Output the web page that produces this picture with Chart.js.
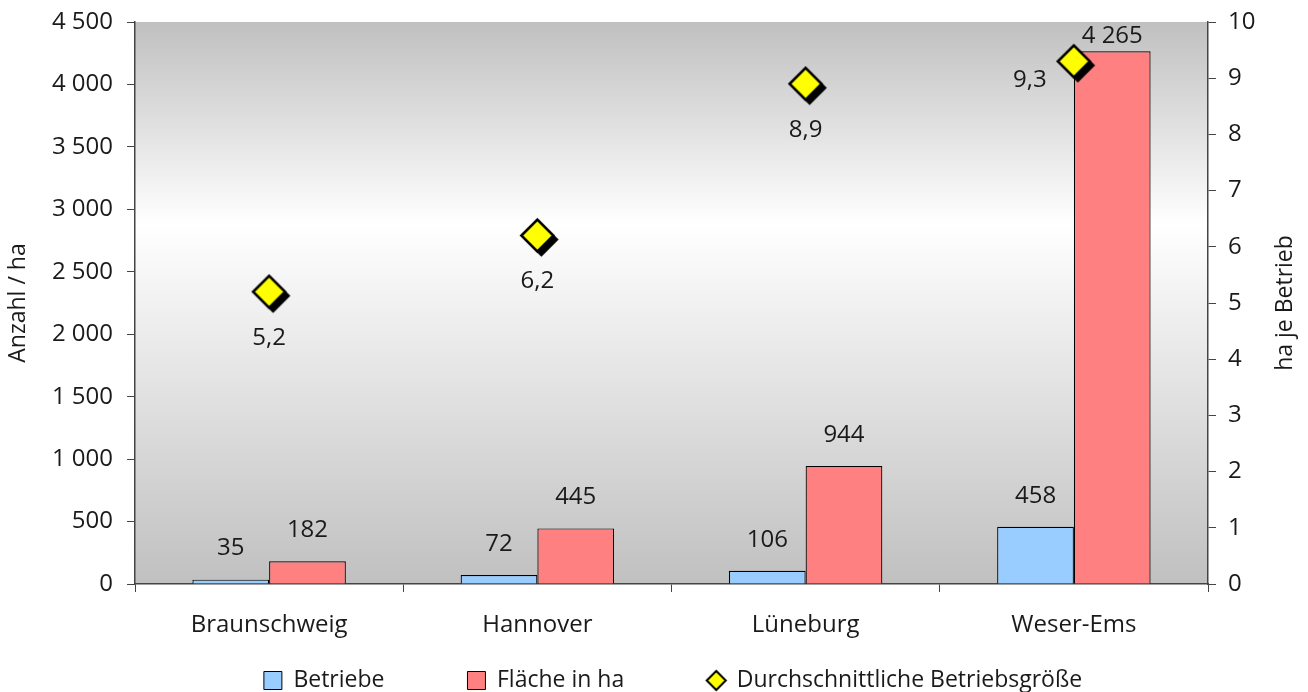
<!DOCTYPE html>
<html>
<head>
<meta charset="utf-8">
<script src="https://cdn.jsdelivr.net/npm/chart.js@4/dist/chart.umd.min.js"></script>
<style>
html,body{margin:0;padding:0;background:#fff;}
#wrap{width:1308px;height:692px;}
</style>
</head>
<body>
<div id="wrap"><canvas id="c" width="1308" height="692"></canvas></div>
<script>
const categories = ['Braunschweig', 'Hannover', 'Lüneburg', 'Weser-Ems'];
const betriebe = [35, 72, 106, 458];
const flaeche = [182, 445, 944, 4265];
const durchschnitt = [5.2, 6.2, 8.9, 9.3];
const seriesNames = ['Betriebe', 'Fläche in ha', 'Durchschnittliche Betriebsgröße'];
const axisTitles = ['Anzahl / ha', 'ha je Betrieb'];

const FONT = '"Open Sans", "Noto Sans", sans-serif';
const TXT = '#1a1a1a';
const AXIS = '#444444';

function fmtInt(v) {
  return String(Math.round(v)).replace(/\B(?=(\d{3})+(?!\d))/g, ' ');
}
function fmtDec(v) {
  return v.toFixed(1).replace('.', ',');
}

function diamondCanvas(r, lw, shadow) {
  const pad = shadow + lw + 2;
  const S = Math.ceil(2 * (r + pad));
  const cv = document.createElement('canvas');
  cv.width = S; cv.height = S;
  const c = cv.getContext('2d');
  const m = S / 2;
  function path(cx, cy, rr) {
    c.beginPath();
    c.moveTo(cx - rr, cy);
    c.lineTo(cx, cy - rr);
    c.lineTo(cx + rr, cy);
    c.lineTo(cx, cy + rr);
    c.closePath();
  }
  if (shadow > 0) {
    path(m + shadow, m + shadow, r + lw / 2);
    c.fillStyle = '#000000';
    c.fill();
  }
  path(m, m, r);
  c.fillStyle = '#ffff00';
  c.fill();
  c.lineWidth = lw;
  c.strokeStyle = '#000000';
  c.lineJoin = 'miter';
  c.stroke();
  return cv;
}
const markerImg = diamondCanvas(16, 2.5, 4);
const legendDiamond = diamondCanvas(9.5, 2, 0);

const bgPlugin = {
  id: 'bgGradient',
  beforeDraw(chart) {
    const {ctx, chartArea: a} = chart;
    const g = ctx.createLinearGradient(0, a.top, 0, a.bottom);
    g.addColorStop(0, '#c0c0c0');
    g.addColorStop(0.36, '#ffffff');
    g.addColorStop(1, '#c0c0c0');
    ctx.save();
    ctx.fillStyle = g;
    ctx.fillRect(a.left, a.top, a.right - a.left, a.bottom - a.top);
    ctx.restore();
  }
};

const labelPlugin = {
  id: 'valueLabels',
  afterDatasetsDraw(chart) {
    const ctx = chart.ctx;
    const a = chart.chartArea;
    ctx.save();
    ctx.font = '24px ' + FONT;
    ctx.fillStyle = TXT;
    ctx.textAlign = 'center';
    ctx.textBaseline = 'middle';
    [0, 1].forEach(di => {
      const meta = chart.getDatasetMeta(di);
      const data = chart.data.datasets[di].data;
      meta.data.forEach((el, i) => {
        const y = Math.max(el.y - 31, a.top + 14);
        ctx.fillText(fmtInt(data[i]), el.x, y);
      });
    });
    const pos = ['below', 'below', 'below', 'left'];
    const meta = chart.getDatasetMeta(2);
    const data = chart.data.datasets[2].data;
    meta.data.forEach((el, i) => {
      if (pos[i] === 'left') {
        ctx.fillText(fmtDec(data[i]), el.x - 44, el.y + 19);
      } else {
        ctx.fillText(fmtDec(data[i]), el.x, el.y + 46);
      }
    });
    // right axis title, reading bottom-to-top
    ctx.font = '23px ' + FONT;
    ctx.translate(1285, (a.top + a.bottom) / 2);
    ctx.rotate(-Math.PI / 2);
    ctx.fillText(axisTitles[1], 0, 0);
    ctx.restore();
  }
};

const legendPlace = {
  id: 'legendPlace',
  afterLayout(chart) {
    const lg = chart.legend;
    if (lg) {
      lg.top = 586;
      lg.left += 19;
      lg.right += 19;
    }
  }
};

function noPad(s) { s.paddingTop = 0; s.paddingBottom = 0; }

new Chart(document.getElementById('c'), {
  type: 'bar',
  data: {
    labels: categories,
    datasets: [
      {
        label: seriesNames[0],
        data: betriebe,
        backgroundColor: '#99ccff',
        borderColor: '#000000',
        borderWidth: 1.2,
        borderSkipped: 'bottom',
        yAxisID: 'y',
        categoryPercentage: 0.572,
        barPercentage: 1.0,
        order: 1
      },
      {
        label: seriesNames[1],
        data: flaeche,
        backgroundColor: '#ff8080',
        borderColor: '#000000',
        borderWidth: 1.2,
        borderSkipped: 'bottom',
        yAxisID: 'y',
        categoryPercentage: 0.572,
        barPercentage: 1.0,
        order: 1
      },
      {
        type: 'line',
        label: seriesNames[2],
        data: durchschnitt,
        showLine: false,
        pointStyle: markerImg,
        pointRadius: 16,
        pointHoverRadius: 16,
        backgroundColor: '#ffff00',
        borderColor: '#000000',
        yAxisID: 'y1',
        order: 0,
        clip: false
      }
    ]
  },
  options: {
    responsive: false,
    animation: false,
    devicePixelRatio: 1,
    layout: { padding: { top: 22, left: 0, right: 0, bottom: 0 } },
    plugins: {
      tooltip: { enabled: false },
      legend: {
        position: 'bottom',
        maxHeight: 40,
        labels: {
          font: { family: FONT, size: 23 },
          color: TXT,
          padding: 83,
          usePointStyle: true,
          boxWidth: 18,
          boxHeight: 18,
          generateLabels(chart) {
            return chart.data.datasets.map((ds, i) => ({
              text: ds.label,
              fillStyle: ds.backgroundColor,
              strokeStyle: '#000000',
              lineWidth: 1,
              pointStyle: i === 2 ? legendDiamond : 'rect',
              fontColor: TXT,
              hidden: false,
              datasetIndex: i
            }));
          }
        }
      }
    },
    scales: {
      x: {
        type: 'category',
        offset: true,
        afterFit(s) { s.height = 68; },
        grid: {
          offset: true,
          drawOnChartArea: false,
          drawTicks: true,
          tickLength: 8,
          color: AXIS
        },
        border: { display: true, color: AXIS, width: 1.5 },
        ticks: {
          font: { family: FONT, size: 24 },
          color: TXT,
          padding: 19,
          maxRotation: 0
        }
      },
      y: {
        position: 'left',
        min: 0,
        max: 4500,
        afterFit(s) { s.width = 135; noPad(s); },
        grid: { drawOnChartArea: false, tickLength: 8, color: AXIS },
        border: { display: true, color: AXIS, width: 1.5 },
        ticks: {
          stepSize: 500,
          font: { family: FONT, size: 24 },
          color: TXT,
          padding: 14,
          callback: v => fmtInt(v)
        },
        title: {
          display: true,
          text: axisTitles[0],
          font: { family: FONT, size: 23 },
          color: TXT,
          padding: { top: 5, bottom: 0 }
        }
      },
      y1: {
        position: 'right',
        min: 0,
        max: 10,
        afterFit(s) { s.width = 100; noPad(s); },
        grid: { drawOnChartArea: false, tickLength: 8, color: AXIS },
        border: { display: true, color: AXIS, width: 1.5 },
        ticks: {
          stepSize: 1,
          font: { family: FONT, size: 24 },
          color: TXT,
          padding: 12
        }
      }
    }
  },
  plugins: [bgPlugin, labelPlugin, legendPlace]
});
</script>
</body>
</html>
